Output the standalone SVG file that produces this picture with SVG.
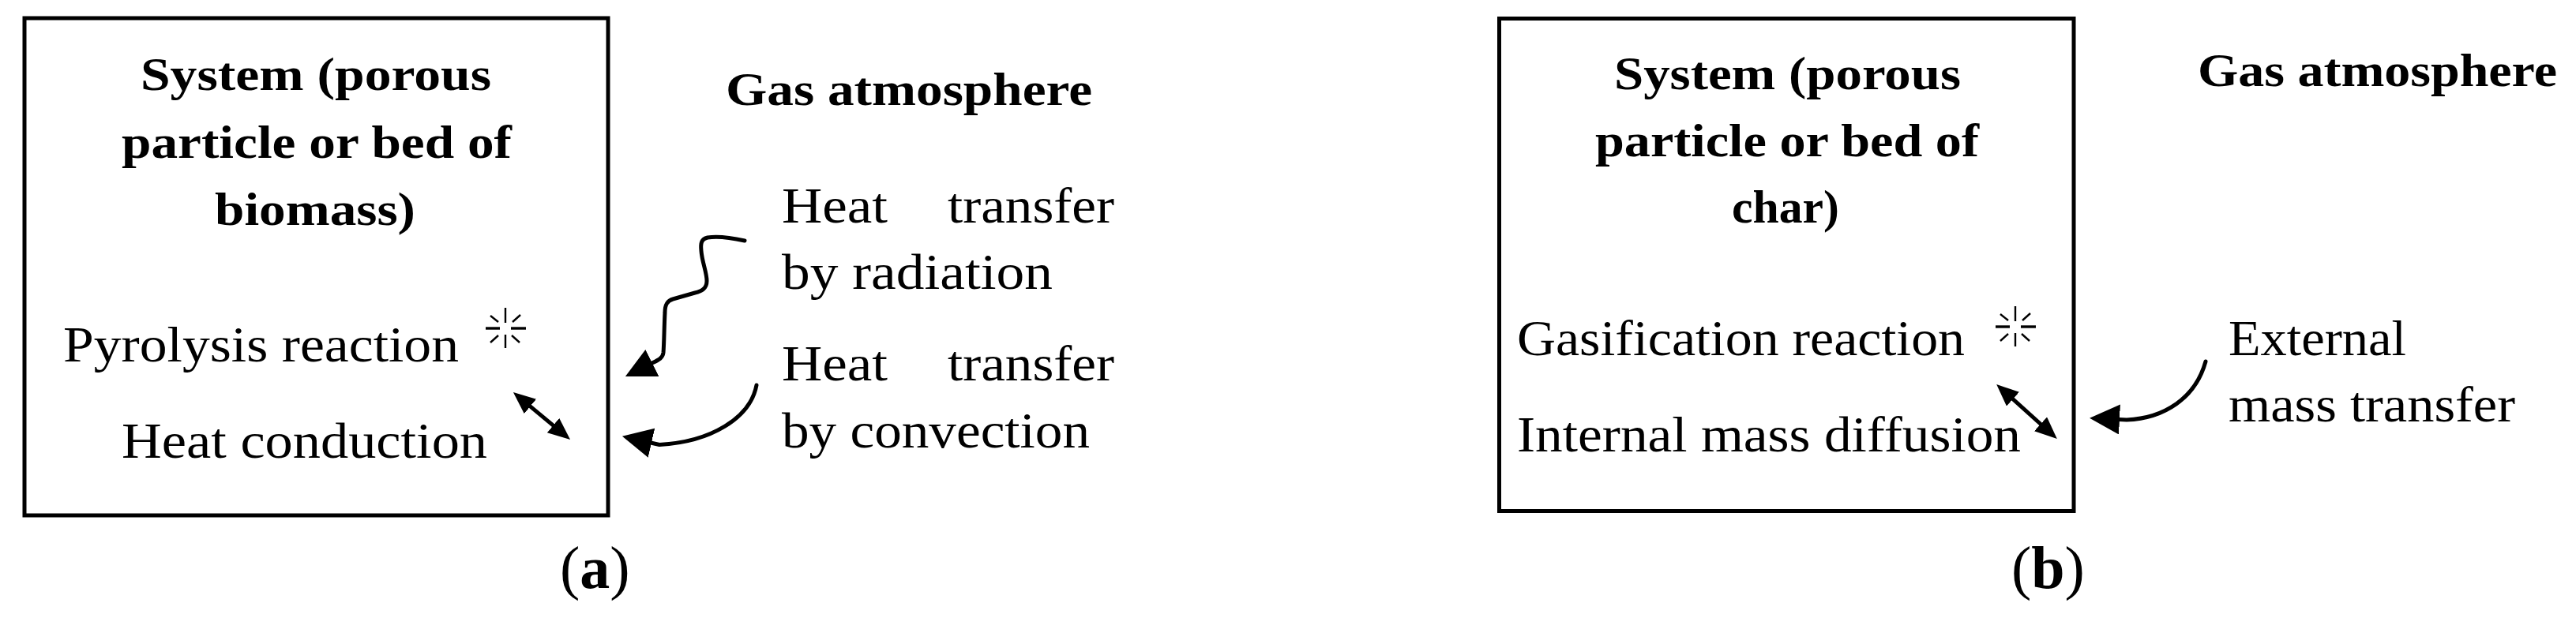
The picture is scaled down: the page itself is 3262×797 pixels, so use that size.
<svg xmlns="http://www.w3.org/2000/svg" width="3262" height="797" viewBox="0 0 3262 797">
<style>
.box{fill:none;stroke:#000;stroke-width:5}
.t{font-family:"Liberation Serif","Times New Roman",serif;fill:#000}
.b{font-weight:bold;font-size:60px}
.r{font-size:64px}
.lbl{font-size:76px}
.wire{fill:none;stroke:#000;stroke-width:5;stroke-linecap:round;stroke-linejoin:round}
.dbl{fill:none;stroke:#000;stroke-width:5}
.st{stroke:#000;stroke-width:2.4;stroke-linecap:butt}
.sth{stroke:#000;stroke-width:3.4}
</style>
<defs>
<marker id="head" markerUnits="userSpaceOnUse" markerWidth="42" markerHeight="40" refX="1" refY="19" orient="auto">
<path d="M0,0 L38,19 L0,38 Z" fill="#000"/>
</marker>
<marker id="dhead" markerUnits="userSpaceOnUse" markerWidth="30" markerHeight="26" refX="4" refY="12" orient="auto-start-reverse">
<path d="M0,0 L28,12 L0,24 Z" fill="#000"/>
</marker>
<g id="star">
<line class="st" x1="0" y1="-26" x2="0" y2="-7"/>
<line class="st" x1="0" y1="8" x2="0" y2="25"/>
<line class="sth" x1="-25" y1="0" x2="-7" y2="0"/>
<line class="sth" x1="7" y1="0" x2="26" y2="0"/>
<line class="st" x1="-19" y1="-16" x2="-9" y2="-8"/>
<line class="st" x1="19" y1="-17" x2="9" y2="-8"/>
<line class="st" x1="-19" y1="18" x2="-9" y2="9"/>
<line class="st" x1="18" y1="18" x2="8" y2="9"/>
</g>
</defs>
<rect width="3262" height="797" fill="#fff"/>

<g id="system-a">
<rect class="box" x="31" y="23" width="739" height="630"/>
<text class="t b" x="178" y="114" textLength="444" lengthAdjust="spacingAndGlyphs">System (porous</text>
<text class="t b" x="154" y="200" textLength="494" lengthAdjust="spacingAndGlyphs">particle or bed of</text>
<text class="t b" x="272" y="285" textLength="254" lengthAdjust="spacingAndGlyphs">biomass)</text>
</g>
<g id="pyrolysis-a">
<text class="t r" x="80" y="458" textLength="501" lengthAdjust="spacingAndGlyphs">Pyrolysis reaction</text>
<use href="#star" x="640" y="416"/>
</g>
<g id="conduction-a">
<text class="t r" x="154" y="580" textLength="463" lengthAdjust="spacingAndGlyphs">Heat conduction</text>
</g>
<g id="gas-a">
<text class="t b" x="919" y="133" textLength="464" lengthAdjust="spacingAndGlyphs">Gas atmosphere</text>
</g>
<g id="radiation-a">
<text class="t r" y="282"><tspan x="990" textLength="134" lengthAdjust="spacingAndGlyphs">Heat</tspan><tspan x="1200" textLength="211" lengthAdjust="spacingAndGlyphs">transfer</tspan></text>
<text class="t r" x="990" y="366" textLength="343" lengthAdjust="spacingAndGlyphs">by radiation</text>
</g>
<g id="convection-a">
<text class="t r" y="482"><tspan x="990" textLength="134" lengthAdjust="spacingAndGlyphs">Heat</tspan><tspan x="1200" textLength="211" lengthAdjust="spacingAndGlyphs">transfer</tspan></text>
<text class="t r" x="990" y="567" textLength="390" lengthAdjust="spacingAndGlyphs">by convection</text>
</g>
<g id="label-a">
<text class="t lbl" x="709" y="745">(<tspan font-weight="bold">a</tspan>)</text>
</g>

<g id="system-b">
<rect class="box" x="1898.5" y="23.5" width="727.5" height="624"/>
<text class="t b" x="2044" y="113" textLength="439" lengthAdjust="spacingAndGlyphs">System (porous</text>
<text class="t b" x="2020" y="198" textLength="486" lengthAdjust="spacingAndGlyphs">particle or bed of</text>
<text class="t b" x="2193" y="282" textLength="136" lengthAdjust="spacingAndGlyphs">char)</text>
</g>
<g id="gasification-b">
<text class="t r" x="1921" y="450" textLength="567" lengthAdjust="spacingAndGlyphs">Gasification reaction</text>
<use href="#star" x="2552" y="414"/>
</g>
<g id="diffusion-b">
<text class="t r" x="1921" y="572" textLength="638" lengthAdjust="spacingAndGlyphs">Internal mass diffusion</text>
</g>
<g id="gas-b">
<text class="t b" x="2783" y="109" textLength="455" lengthAdjust="spacingAndGlyphs">Gas atmosphere</text>
</g>
<g id="external-b">
<text class="t r" x="2822" y="450" textLength="225" lengthAdjust="spacingAndGlyphs">External</text>
<text class="t r" x="2822" y="534" textLength="363" lengthAdjust="spacingAndGlyphs">mass transfer</text>
</g>
<g id="label-b">
<text class="t lbl" x="2547" y="745">(<tspan font-weight="bold">b</tspan>)</text>
</g>

<g id="connectors">
<path class="wire" marker-end="url(#head)" d="M943,305 C925,301 908,299 896,301 C888,303 887,308 888,318 C889,332 895,345 895,356 C895,366 888,369 880,371 L852,379 C845,381 842,386 842,396 C841,415 841,435 840,447 C839,454 834,456 825,460.5"/>
<path class="wire" marker-end="url(#head)" d="M958,488 C950,530 900,560 835,563.5 L824,561"/>
<line class="dbl" x1="668.4" y1="512.4" x2="703.6" y2="541.6" marker-start="url(#dhead)" marker-end="url(#dhead)"/>
<path class="wire" marker-end="url(#head)" d="M2793,458 C2780,505 2740,530 2693,532 L2683,531.5"/>
<line class="dbl" x1="2546" y1="503" x2="2587" y2="540" marker-start="url(#dhead)" marker-end="url(#dhead)"/>
</g>
</svg>
